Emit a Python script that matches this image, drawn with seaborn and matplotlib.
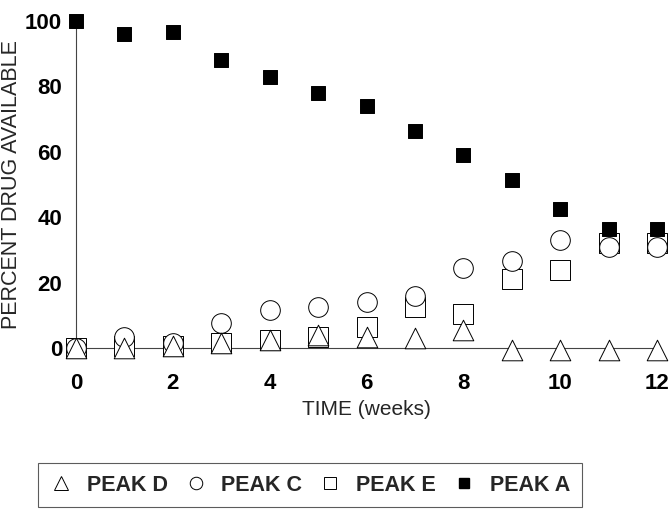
import pandas as pd
import numpy as np
import seaborn as sns
import matplotlib.pyplot as plt
from matplotlib.lines import Line2D

weeks = [0, 1, 2, 3, 4, 5, 6, 7, 8, 9, 10, 11, 12]
peak_a = [100, 96, 96.5, 88, 83, 78, 74, 66.5, 59, 51.5, 42.5, 36.5, 36.5]
peak_c = [0, 3.5, 1.5, 7.5, 11.5, 12.5, 14, 16, 24.5, 26.5, 33, 31, 31]
peak_e = [0, 0.5, 0.5, 1.5, 2.5, 3.5, 6.5, 12.5, 10.5, 21, 24, 32, 32]
peak_d = [0, 0, 0.5, 1.5, 2.5, 4, 3.5, 3, 5.5, -0.5, -0.5, -0.5, -0.5]

x_ticks = [0, 2, 4, 6, 8, 10, 12]
y_ticks = [0, 20, 40, 60, 80, 100]

sns.set_style('white')
plt.rcParams['font.family'] = ['Liberation Sans', 'DejaVu Sans']

fig = plt.figure(figsize=(6.69, 5.11), dpi=100)
ax = fig.add_axes([76 / 669, 1 - 348 / 511, (657 - 76) / 669, (348 - 21) / 511])

df = pd.DataFrame({'week': weeks, 'A': peak_a, 'C': peak_c, 'E': peak_e, 'D': peak_d})

# draw order: squares, circles, triangles, then filled squares
series = [('E', 's', 'white', 190), ('C', 'o', 'white', 200), ('D', '^', 'white', 220), ('A', 's', 'black', 100)]
for col, mk, fc, size in series:
    sns.scatterplot(ax=ax, data=df, x='week', y=col, marker=mk, color=fc,
                    edgecolor='black', linewidth=0.7, s=size, clip_on=False, zorder=3, legend=False)

ax.set_xlim(0, 12)
ax.set_ylim(0, 100)
ax.set_xticks(x_ticks)
ax.set_yticks(y_ticks)
for s in ['top', 'right']:
    ax.spines[s].set_visible(False)
for s in ['left', 'bottom']:
    ax.spines[s].set_color('#444444')
    ax.spines[s].set_linewidth(0.8)

ax.tick_params(axis='x', direction='out', length=4, width=0.6, pad=14, colors='black')
ax.tick_params(axis='y', direction='out', length=3, width=0.6, pad=7, colors='black')
for lab in ax.get_xticklabels() + ax.get_yticklabels():
    lab.set_fontweight('bold')
    lab.set_fontsize(16)

ax.set_xlabel('TIME (weeks)', fontsize=15, labelpad=4)
ax.set_ylabel('PERCENT DRUG AVAILABLE', fontsize=15.5, labelpad=2)

handles = [
    Line2D([], [], marker='^', linestyle='none', markerfacecolor='white', markeredgecolor='black', markersize=10, markeredgewidth=0.7),
    Line2D([], [], marker='o', linestyle='none', markerfacecolor='white', markeredgecolor='black', markersize=9, markeredgewidth=0.7),
    Line2D([], [], marker='s', linestyle='none', markerfacecolor='white', markeredgecolor='black', markersize=9, markeredgewidth=0.7),
    Line2D([], [], marker='s', linestyle='none', markerfacecolor='black', markeredgecolor='black', markersize=7),
]
labels = ['PEAK D', 'PEAK C', 'PEAK E', 'PEAK A']
leg = fig.legend(handles, labels, loc='center', bbox_to_anchor=(310 / 669, 1 - 485 / 511), ncol=4,
                 frameon=True, fancybox=False, edgecolor='#333333', handlelength=1.0,
                 handletextpad=0.7, columnspacing=0.8, borderpad=0.55,
                 prop={'weight': 'bold', 'size': 15.5})
leg.get_frame().set_linewidth(0.8)

fig.savefig('out.png', dpi=100)
